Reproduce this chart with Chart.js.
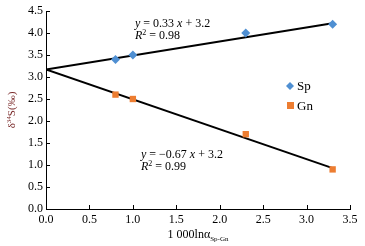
<!DOCTYPE html>
<html>
<head>
<meta charset="utf-8">
<script src="https://cdn.jsdelivr.net/npm/chart.js@4"></script>
<style>
	html, body { margin: 0; padding: 0; background: #fff; }
	#wrap { width: 365px; height: 246px; }
</style>
</head>
<body>
<div id="wrap"><canvas id="chart" width="365" height="246"></canvas></div>
<script>
// data
const spX = [0.8, 1.0, 2.3, 3.3];
const spY = [3.4, 3.5, 4.0, 4.2];
const gnX = [0.8, 1.0, 2.3, 3.3];
const gnY = [2.6, 2.5, 1.7, 0.9];
// trend lines (ends)
const trendX = [0, 3.3];
const spTrend = [3.17, 4.22];
const gnTrend = [3.17, 0.93];
const xTicks = [0, 0.5, 1.0, 1.5, 2.0, 2.5, 3.0, 3.5];
const yTicks = [0, 0.5, 1.0, 1.5, 2.0, 2.5, 3.0, 3.5, 4.0, 4.5];

const SERIF = '"Liberation Serif", "DejaVu Serif", serif';
const blue = '#4f8fd2';
const orange = '#ed7d31';

function pts(xs, ys) {
	return xs.map((x, i) => ({ x: x, y: ys[i] }));
}

// ticks drawn inward, plus text labels / legend
const extras = {
	id: 'extras',
	afterDraw(chart) {
		const ctx = chart.ctx;
		const xs = chart.scales.x;
		const ys = chart.scales.y;
		const area = chart.chartArea;
		ctx.save();
		ctx.strokeStyle = '#000';
		ctx.lineWidth = 1;
		xTicks.forEach((v) => {
			const px = Math.round(xs.getPixelForValue(v)) + 0.5;
			ctx.beginPath();
			ctx.moveTo(px, area.bottom);
			ctx.lineTo(px, area.bottom - 4);
			ctx.stroke();
		});
		yTicks.forEach((v) => {
			const py = Math.round(ys.getPixelForValue(v)) + 0.5;
			ctx.beginPath();
			ctx.moveTo(area.left, py);
			ctx.lineTo(area.left + 4, py);
			ctx.stroke();
		});

		// equations
		ctx.fillStyle = '#000';
		ctx.textBaseline = 'middle';
		ctx.textAlign = 'left';
		function eq(x, y, a, b) {
			ctx.font = 'italic 12px ' + SERIF;
			ctx.fillText('y', x, y);
			let w = ctx.measureText('y').width;
			ctx.font = '12px ' + SERIF;
			ctx.fillText(' = ' + a + ' ', x + w, y);
			w += ctx.measureText(' = ' + a + ' ').width;
			ctx.font = 'italic 12px ' + SERIF;
			ctx.fillText('x', x + w, y);
			w += ctx.measureText('x').width;
			ctx.font = '12px ' + SERIF;
			ctx.fillText(' + 3.2', x + w, y);
		}
		function r2(x, y, v) {
			ctx.font = 'italic 12px ' + SERIF;
			ctx.fillText('R', x, y);
			let w = ctx.measureText('R').width;
			ctx.font = '8px ' + SERIF;
			ctx.fillText('2', x + w, y - 3);
			w += ctx.measureText('2').width;
			ctx.font = '12px ' + SERIF;
			ctx.fillText(' = ' + v, x + w, y);
		}
		eq(135, 24, '0.33');
		r2(135, 36, '0.98');
		eq(141, 155, '\u22120.67');
		r2(141, 167, '0.99');

		// legend
		ctx.fillStyle = blue;
		ctx.beginPath();
		ctx.moveTo(290, 82);
		ctx.lineTo(294, 86);
		ctx.lineTo(290, 90);
		ctx.lineTo(286, 86);
		ctx.closePath();
		ctx.fill();
		ctx.fillStyle = orange;
		ctx.fillRect(287, 102, 7, 7);
		ctx.fillStyle = '#000';
		ctx.font = '13px ' + SERIF;
		ctx.fillText('Sp', 297, 87);
		ctx.fillText('Gn', 297, 107);

		// x title
		ctx.font = '12px ' + SERIF;
		const t1 = '1 000ln\u03b1';
		const w1 = ctx.measureText(t1).width;
		ctx.font = '7px ' + SERIF;
		const t2 = 'Sp-Gn';
		const w2 = ctx.measureText(t2).width;
		const x0 = 198 - (w1 + w2) / 2;
		ctx.font = '12px ' + SERIF;
		ctx.fillText(t1, x0, 235);
		ctx.font = '7px ' + SERIF;
		ctx.fillText(t2, x0 + w1, 239);

		// y title
		ctx.translate(12, 110);
		ctx.rotate(-Math.PI / 2);
		ctx.textAlign = 'left';
		ctx.fillStyle = '#7a2a2a';
		ctx.font = '11px ' + SERIF;
		const a1 = '\u03b4';
		const a2 = '34';
		const a3 = 'S(\u2030)';
		const wa = ctx.measureText(a1).width;
		ctx.font = '7px ' + SERIF;
		const wb = ctx.measureText(a2).width;
		ctx.font = '11px ' + SERIF;
		const wc = ctx.measureText(a3).width;
		let sx = -(wa + wb + wc) / 2;
		ctx.fillText(a1, sx, 0);
		ctx.font = '7px ' + SERIF;
		ctx.fillText(a2, sx + wa, -3);
		ctx.font = '11px ' + SERIF;
		ctx.fillText(a3, sx + wa + wb, 0);
		ctx.restore();
	},
};

new Chart(document.getElementById('chart'), {
	type: 'scatter',
	data: {
		datasets: [
			{
				label: 'Sp trend',
				data: pts(trendX, spTrend),
				showLine: true,
				borderColor: '#000',
				borderWidth: 2,
				pointRadius: 0,
				order: 3,
			},
			{
				label: 'Gn trend',
				data: pts(trendX, gnTrend),
				showLine: true,
				borderColor: '#000',
				borderWidth: 2,
				pointRadius: 0,
				order: 3,
			},
			{
				label: 'Sp',
				data: pts(spX, spY),
				pointStyle: 'rectRot',
				pointRadius: 4.5,
				backgroundColor: blue,
				borderColor: blue,
				borderWidth: 0,
				order: 1,
			},
			{
				label: 'Gn',
				data: pts(gnX, gnY),
				pointStyle: 'rect',
				pointRadius: 4.5,
				backgroundColor: orange,
				borderColor: orange,
				borderWidth: 0,
				order: 1,
			},
		],
	},
	options: {
		responsive: false,
		animation: false,
		layout: { padding: { top: 11, right: 15, left: 0, bottom: 0 } },
		plugins: {
			legend: { display: false },
			tooltip: { enabled: false },
		},
		scales: {
			x: {
				type: 'linear',
				min: 0,
				max: 3.5,
				afterFit(scale) { scale.height = 37; },
				afterBuildTicks(scale) { scale.ticks = xTicks.map((v) => ({ value: v })); },
				grid: { display: false, drawTicks: false },
				border: { display: true, color: '#000', width: 1 },
				ticks: {
					color: '#000',
					padding: 4,
					maxRotation: 0,
					font: { family: SERIF, size: 12 },
					callback: (v) => v.toFixed(1),
				},
			},
			y: {
				type: 'linear',
				min: 0,
				max: 4.5,
				afterFit(scale) { scale.width = 46; },
				afterBuildTicks(scale) { scale.ticks = yTicks.map((v) => ({ value: v })); },
				grid: { display: false, drawTicks: false },
				border: { display: true, color: '#000', width: 1 },
				ticks: {
					color: '#000',
					padding: 3,
					font: { family: SERIF, size: 12 },
					callback: (v) => v.toFixed(1),
				},
			},
		},
	},
	plugins: [extras],
});
</script>
</body>
</html>
